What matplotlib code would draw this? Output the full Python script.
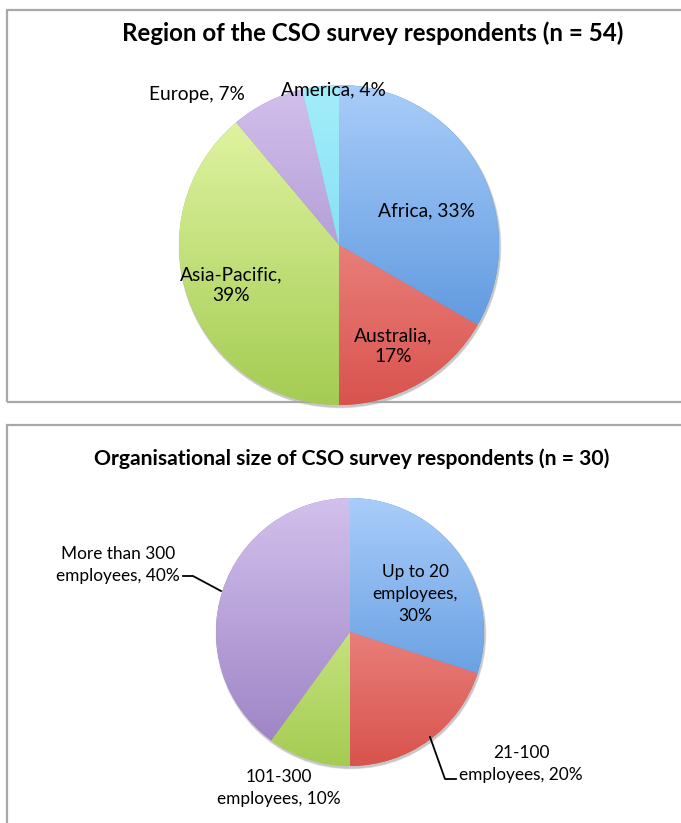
import numpy as np
import matplotlib
matplotlib.use('Agg')
from matplotlib import pyplot as plt
from matplotlib.colors import LinearSegmentedColormap
from matplotlib.patches import Rectangle, Circle

plt.rcParams['font.family'] = ['Lato', 'DejaVu Sans']

W, H = 681, 823

# chart data
region_names = ['Africa', 'Australia', 'Asia-Pacific', 'Europe', 'America']
region_counts = [18, 9, 21, 4, 2]
region_pcts = [33, 17, 39, 7, 4]
region_seps = [', ', ',\n', ',\n', ', ', ', ']

size_names = ['Up to 20\nemployees', '21-100\nemployees', '101-300\nemployees',
              'More than 300\nemployees']
size_counts = [9, 6, 3, 12]
size_pcts = [30, 20, 10, 40]
size_seps = [',\n', ', ', ', ', ', ']

# gradient colours (top, bottom)
blue = ('#a9cdf9', '#4a8ad8')
red = ('#f8aaa5', '#d9534e')
green = ('#e6f8ab', '#a4cc52')
purple = ('#d2c0ec', '#9a7fc3')
cyan = ('#a3edfb', '#6dd6ef')


def py(y):
    return H - y


def gradient_pie(ax, counts, colors, cx, cy, r):
    # soft shadow
    for k, a in [(5, 0.06), (3.5, 0.08), (2, 0.1)]:
        ax.add_patch(Circle((cx + 1, cy - 2), r + k * 0.3, color='black',
                            alpha=a, lw=0, zorder=0.5))
    wedges, _ = ax.pie(counts, startangle=90, counterclock=False,
                       center=(cx, cy), radius=r,
                       colors=[c[1] for c in colors],
                       wedgeprops=dict(linewidth=0))
    grad = np.linspace(0, 1, 256).reshape(-1, 1)
    for w, (top, bot) in zip(wedges, colors):
        cmap = LinearSegmentedColormap.from_list('g', [top, bot])
        im = ax.imshow(grad, cmap=cmap, extent=(cx - r, cx + r, cy - r, cy + r),
                       origin='upper', aspect='auto', zorder=2)
        im.set_clip_path(w)
    return wedges


fig = plt.figure(figsize=(W / 100, H / 100), dpi=100)
ax = fig.add_axes([0, 0, 1, 1])

# panel borders
ax.add_patch(Rectangle((7, py(402)), 700, 392, fill=False,
                       edgecolor='#a8a8a8', lw=1.6, zorder=1))
ax.add_patch(Rectangle((7, -20), 700, py(425) + 20, fill=False,
                       edgecolor='#a8a8a8', lw=1.6, zorder=1))

# top chart
gradient_pie(ax, region_counts, [blue, red, green, purple, cyan],
             339, py(245), 160)
ax.text(373, py(33), 'Region of the CSO survey respondents (n = 54)',
        ha='center', va='center', fontsize=17.4, fontweight='bold')
region_pos = [(426, 211), (393, 346), (231, 285), (197, 94), (333, 90)]
for name, p, sep, (x, y) in zip(region_names, region_pcts, region_seps, region_pos):
    ax.text(x, py(y), f'{name}{sep}{p}%', ha='center', va='center',
            fontsize=13.8, linespacing=1.3, zorder=5)

# bottom chart
gradient_pie(ax, size_counts, [blue, red, green, purple],
             350, py(632), 134)
ax.text(352, py(459), 'Organisational size of CSO survey respondents (n = 30)',
        ha='center', va='center', fontsize=15.2, fontweight='bold')
size_pos = [(415, 594), (521, 764), (279, 788), (118, 565)]
for name, p, sep, (x, y) in zip(size_names, size_pcts, size_seps, size_pos):
    ax.text(x, py(y), f'{name}{sep}{p}%', ha='center', va='center',
            fontsize=12.4, linespacing=1.45, zorder=5)

# leader lines
ax.plot([183, 193, 221], [py(576), py(576), py(591)], color='black', lw=1.3, zorder=5)
ax.plot([430, 445, 456], [py(737), py(779), py(779)], color='black', lw=1.3, zorder=5)

ax.set_xlim(0, W)
ax.set_ylim(0, H)
ax.set_aspect('auto')
ax.axis('off')

plt.savefig('out.png', dpi=100)
